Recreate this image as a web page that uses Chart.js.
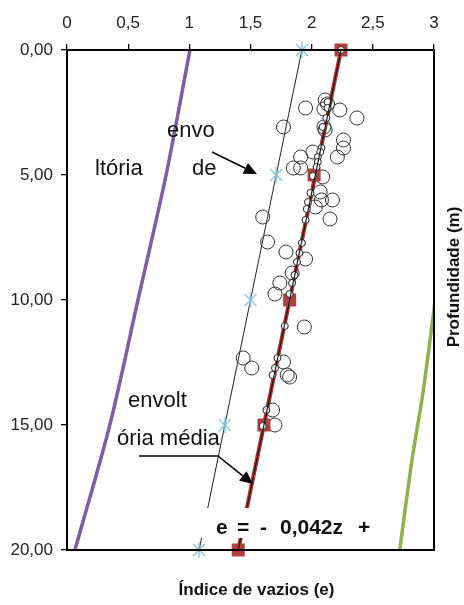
<!DOCTYPE html>
<html>
<head>
<meta charset="utf-8">
<script src="https://cdn.jsdelivr.net/npm/chart.js@4/dist/chart.umd.min.js"></script>
<style>
  body { margin: 0; background: #fff; }
  #wrap { width: 464px; height: 605px; }
</style>
</head>
<body>
<div id="wrap"><canvas id="chart" width="464" height="605"></canvas></div>
<script>
// eixos
const xTickLabels = ['0', '0,5', '1', '1,5', '2', '2,5', '3'];
const yTickLabels = ['0,00', '5,00', '10,00', '15,00', '20,00'];

// profundidades das marcas (m)
const depthZ = [0, 5, 10, 15, 20];
// trajetória média (quadrados vermelhos)
const meanE = [2.24, 2.02, 1.82, 1.61, 1.40];
// envoltória inferior (asteriscos)
const lowerE = [1.92, 1.71, 1.50, 1.29, 1.08];
// curva roxa
const purpleE = [1.005, 0.81, 0.58, 0.35, 0.065];
// curva verde
const greenZ = [10, 13.7, 16.4, 20];
const greenE = [3.01, 2.91, 2.82, 2.72];

// pontos medidos - círculos grandes
const bigE = [2.11, 2.13, 1.95, 2.10, 2.23, 2.37, 1.77, 2.10, 2.11, 2.26, 2.26, 2.21, 2.01, 1.91, 1.85, 1.91,
  2.09, 2.07, 2.08, 2.17, 2.03, 2.15, 1.60, 1.64, 1.79, 1.95, 1.84, 1.74, 1.70, 1.94, 1.44, 1.51, 1.77,
  1.80, 1.82, 1.68, 1.70];
const bigZ = [2.0, 2.16, 2.32, 2.36, 2.4, 2.72, 3.08, 3.08, 3.2, 3.6, 3.92, 4.28, 4.08, 4.28, 4.72, 4.72,
  5.08, 5.68, 6.0, 6.0, 6.28, 6.76, 6.68, 7.68, 8.08, 8.36, 8.92, 9.32, 9.76, 11.08, 12.32, 12.72, 12.48,
  13.0, 13.08, 14.4, 15.0];

// pontos medidos - círculos pequenos
const smallE = [2.24, 2.13, 2.13, 2.12, 2.09, 2.08, 2.07, 2.05, 2.05, 2.04, 2.01, 1.99, 1.97, 1.96, 1.95,
  1.92, 1.90, 1.88, 1.86, 1.84, 1.82, 1.78, 1.72, 1.70, 1.68, 1.63, 1.60];
const smallZ = [0, 2.08, 2.32, 2.72, 3.08, 3.92, 4.08, 4.28, 4.48, 4.68, 5.04, 5.72, 6.08, 6.36, 6.8,
  7.72, 8.12, 8.48, 9.0, 9.32, 9.76, 11.04, 12.32, 12.72, 13.0, 14.4, 15.04];

const pts = (es, zs) => es.map((e, i) => ({ x: e, y: zs[i] }));
const FONT = 'Liberation Sans, Arial, sans-serif';

// marcador asterisco (tipo Excel)
const star = document.createElement('canvas');
star.width = 14; star.height = 16;
const sc = star.getContext('2d');
sc.strokeStyle = '#7fc2da';
sc.lineWidth = 1.3;
sc.beginPath();
sc.moveTo(1, 2); sc.lineTo(13, 14);
sc.moveTo(13, 2); sc.lineTo(1, 14);
sc.moveTo(7, 0); sc.lineTo(7, 16);
sc.stroke();

function arrow(ctx, x1, y1, x2, y2) {
    const ang = Math.atan2(y2 - y1, x2 - x1);
    const len = 13, half = 6;
    const bx = x2 - len * Math.cos(ang), by = y2 - len * Math.sin(ang);
    ctx.beginPath();
    ctx.moveTo(x1, y1);
    ctx.lineTo(bx, by);
    ctx.stroke();
    ctx.beginPath();
    ctx.moveTo(x2, y2);
    ctx.lineTo(bx + half * Math.sin(ang), by - half * Math.cos(ang));
    ctx.lineTo(bx - half * Math.sin(ang), by + half * Math.cos(ang));
    ctx.closePath();
    ctx.fill();
}

const anotacoes = {
    id: 'anotacoes',
    afterDatasetsDraw(chart) {
        const { ctx, scales } = chart;
        const px = v => scales.x.getPixelForValue(v);
        const py = v => scales.y.getPixelForValue(v);
        ctx.save();

        // caixa branca da equação
        ctx.fillStyle = '#fff';
        ctx.fillRect(px(0.638), py(18.32), px(2.657) - px(0.638), py(19.52) - py(18.32));

        ctx.fillStyle = '#111';
        ctx.font = '22px ' + FONT;
        ctx.textBaseline = 'alphabetic';
        ctx.textAlign = 'left';
        ctx.fillText('envo', px(0.817), py(3.48));
        ctx.fillText('de', px(1.022), py(5.0));
        ctx.fillText('ltória', px(0.229), py(5.0));
        ctx.fillText('envolt', px(0.499), py(14.28));
        ctx.fillText('ória média', px(0.409), py(15.8));

        // equação
        ctx.font = 'bold 21px ' + FONT;
        const eqTokens = ['e', '=', '-', '0,042z', '+'];
        const eqPos = [1.218, 1.39, 1.578, 1.741, 2.379];
        eqTokens.forEach((t, i) => ctx.fillText(t, px(eqPos[i]), py(19.36)));

        // setas
        ctx.strokeStyle = '#000';
        ctx.fillStyle = '#000';
        ctx.lineWidth = 1.6;
        arrow(ctx, px(1.185), py(4.08), px(1.553), py(4.96));
        ctx.beginPath();
        ctx.moveTo(px(0.589), py(16.24));
        ctx.lineTo(px(1.234), py(16.24));
        ctx.stroke();
        arrow(ctx, px(1.234), py(16.24), px(1.52), py(17.36));
        ctx.restore();
    },
    afterDraw(chart) {
        const { ctx, chartArea: a } = chart;
        ctx.save();
        ctx.strokeStyle = '#000';
        ctx.lineWidth = 2;
        ctx.strokeRect(a.left, a.top, a.right - a.left, a.bottom - a.top);

        ctx.fillStyle = '#111';
        ctx.font = 'bold 17px ' + FONT;
        ctx.textAlign = 'center';
        ctx.textBaseline = 'alphabetic';
        ctx.fillText('Índice de vazios (e)', (a.left + a.right) / 2 + 6, a.bottom + 45);

        ctx.translate(a.right + 20, (a.top + a.bottom) / 2 - 23);
        ctx.rotate(-Math.PI / 2);
        ctx.textBaseline = 'middle';
        ctx.fillText('Profundidade (m)', 0, 0);
        ctx.restore();
    }
};

const lineDs = (data, color, width, order, extra) => Object.assign({
    data, showLine: true, borderColor: color, borderWidth: width,
    pointRadius: 0, fill: false, order
}, extra || {});

new Chart(document.getElementById('chart'), {
    type: 'scatter',
    data: {
        datasets: [
            lineDs(pts([meanE[0], meanE[4]], [depthZ[0], depthZ[4]]), '#1a1a1a', 1.2, 0),
            { data: pts(smallE, smallZ), pointRadius: 3.5, borderWidth: 1, borderColor: '#222',
              backgroundColor: '#fff', order: 1, clip: false },
            { data: pts(meanE, depthZ), pointStyle: 'rect', pointRadius: 9.2, borderWidth: 0,
              backgroundColor: '#b0403e', borderColor: '#b0403e', order: 2, clip: false },
            { data: pts(bigE, bigZ), pointRadius: 7, borderWidth: 1, borderColor: '#333',
              backgroundColor: 'rgba(0,0,0,0)', order: 3, clip: false },
            lineDs(pts([meanE[0], meanE[4]], [depthZ[0], depthZ[4]]), '#b3302e', 4, 4),
            { data: pts(lowerE, depthZ), pointStyle: star, pointRadius: 7, order: 5, clip: false },
            lineDs(pts([lowerE[0], lowerE[4]], [depthZ[0], depthZ[4]]), '#222', 1, 6),
            lineDs(pts(purpleE, depthZ), '#7b5ea7', 3.5, 7, { tension: 0.3 }),
            lineDs(pts(greenE, greenZ), '#8db24b', 3.5, 8, { tension: 0.3 })
        ]
    },
    options: {
        responsive: false,
        animation: false,
        events: [],
        layout: { padding: { left: 0, top: 0, right: 30, bottom: 55 } },
        plugins: { legend: { display: false }, tooltip: { enabled: false } },
        scales: {
            x: {
                type: 'linear', position: 'top', min: 0, max: 3,
                ticks: {
                    stepSize: 0.5, color: '#222', padding: 10,
                    font: { family: FONT, size: 17 },
                    callback: v => xTickLabels[Math.round(v / 0.5)]
                },
                grid: { drawOnChartArea: false, tickLength: 6, color: '#000', lineWidth: 1.3 },
                border: { color: '#000', width: 2 },
                afterFit: s => { s.height = 50; }
            },
            y: {
                type: 'linear', position: 'left', reverse: true, min: 0, max: 20,
                ticks: {
                    stepSize: 5, color: '#222', padding: 8,
                    font: { family: FONT, size: 17 },
                    callback: v => yTickLabels[Math.round(v / 5)]
                },
                grid: { drawOnChartArea: false, tickLength: 6, color: '#000', lineWidth: 1.3 },
                border: { color: '#000', width: 2 },
                afterFit: s => { s.width = 67; }
            }
        }
    },
    plugins: [anotacoes]
});
</script>
</body>
</html>
